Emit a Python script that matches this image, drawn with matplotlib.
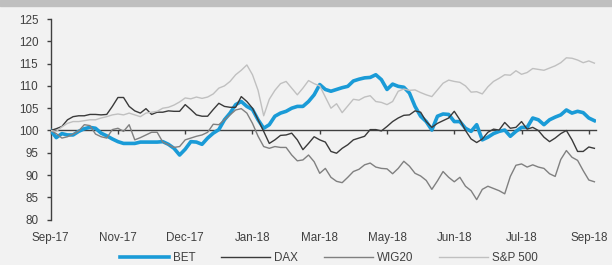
import matplotlib.pyplot as plt
from matplotlib.patches import Rectangle

plt.rcParams['font.family'] = ['Liberation Sans', 'DejaVu Sans']

# daily index levels (rebased to 100) at regular steps
bet = [100, 98.4, 99.3, 99, 99, 99.8, 100.4, 100.7, 100.5, 99.4, 98.8, 98.1,
       97.5, 97.1, 97.1, 97.1, 97.4, 97.4, 97.4, 97.4, 97.5, 96.9, 96.0, 94.5,
       95.8, 97.5, 97.4, 96.9, 98.3, 99.4, 100.2, 102.4, 103.9, 105.8, 106.5, 105.4,
       104.7, 102.4, 100.5, 101.3, 103.2, 103.9, 104.3, 105, 105.4, 105.4, 106.5, 108.0,
       110.3, 109.2, 108.8, 109.2, 109.6, 109.9, 111.1, 111.5, 111.8, 111.9, 112.5, 111.4,
       109.2, 110.4, 109.9, 109.7, 108.4, 105.4, 103.2, 102, 100.1, 103.2, 103.7, 103.6,
       102, 102, 100.5, 99.8, 101.3, 97.9, 98.5, 99.3, 99.8, 100.1, 98.7, 99.8,
       100.7, 100.7, 102.8, 102.4, 101.3, 102.4, 103, 103.5, 104.6, 103.9, 104.3, 104,
       102.8, 102.2]
dax = [100, 100.4, 100.9, 102.4, 103.1, 103.3, 103.3, 103.6, 103.6, 103.5, 103.6, 105.4,
       107.4, 107.4, 105.4, 104.4, 103.9, 104.9, 103.6, 104.1, 104.1, 104.4, 104.3, 104.3,
       105.8, 104.7, 103.5, 103.2, 103.2, 104.7, 106.1, 105.4, 105.2, 105.2, 107.6, 106.5,
       105, 102.4, 99.8, 97.1, 97.9, 98.9, 99.0, 99.4, 97.9, 95.7, 97.1, 98.6,
       97.9, 97.4, 95.3, 94.9, 96.0, 96.8, 97.9, 98.3, 98.7, 100.2, 100.2, 99.9,
       100.9, 102, 102.8, 103.4, 103.5, 104.4, 104.1, 102, 100.7, 101.6, 102.2, 102.8,
       104.3, 102.4, 100, 98.1, 97.3, 98.1, 99.6, 100.3, 100.1, 101.8, 100.5, 100.7,
       102, 100.3, 100.7, 100, 98.5, 97.5, 98.3, 99.3, 100, 97.9, 95.3, 95.3,
       96.3, 96.0]
wig20 = [100, 99.3, 98.3, 98.6, 99.2, 99.9, 101.3, 101.1, 99.2, 98.6, 98.3, 100.2,
         100.5, 99.8, 101.3, 97.9, 98.4, 99, 99.6, 99.6, 97.4, 96.8, 96.2, 96.4,
         97.9, 98.3, 98.7, 99, 99.6, 101.4, 101.3, 102.4, 103.5, 104.6, 104.9, 103.9,
         101.6, 98.7, 96.4, 96.0, 96.4, 96.2, 96.2, 94.5, 93.2, 93.4, 94.5, 93,
         90.4, 91.5, 89.5, 88.6, 88.3, 89.5, 90.8, 91.3, 92.3, 92.7, 91.8, 91.5,
         91.4, 90.3, 91.5, 93.1, 92, 90.4, 89.8, 88.8, 86.8, 88.7, 90.8, 89.5,
         88.5, 89.5, 87.5, 86.5, 84.5, 86.8, 87.5, 87, 86.5, 85.8, 89.7, 92.2,
         92.5, 91.8, 92.3, 91.8, 91.5, 90.3, 89.7, 93.5, 95.5, 94, 93.3, 91,
         88.9, 88.5]
sp500 = [100, 99.8, 100.8, 101.6, 102, 102, 102.2, 102.4, 102.4, 102.8, 103.1, 103.5,
         103.7, 103.5, 103.9, 103.5, 103.1, 103.9, 104.1, 104.3, 105, 105.2, 105.7, 106.4,
         107.3, 107.1, 107.5, 107.2, 107.5, 108.2, 109.5, 110, 111, 112.5, 113.5, 114.7,
         112.5, 109, 103.3, 107, 109, 110.5, 111, 109.5, 108, 109.5, 111.2, 110.5,
         110, 107.5, 105, 106, 104, 105.5, 107, 106.8, 107.5, 107.8, 106.5, 106.3,
         105.8, 106.5, 108.8, 109.3, 109, 109.1, 108.5, 108, 107.6, 109.1, 110.6, 111.3,
         111, 110.8, 110, 108.6, 108.7, 108.2, 109.8, 111, 111.7, 112.5, 112.4, 113.4,
         112.6, 113, 113.9, 113.7, 113.5, 114, 114.5, 115.2, 116.3, 116.2, 115.8, 115.2,
         115.6, 115.1]

tick_labels = ['Sep-17', 'Nov-17', 'Dec-17', 'Jan-18', 'Mar-18', 'May-18',
               'Jun-18', 'Jul-18', 'Sep-18']

txt = '#404040'
bg = '#f2f2f2'

fig = plt.figure(figsize=(6.12, 2.65), dpi=100, facecolor=bg)
fig.patches.append(Rectangle((0, 0.978), 1, 0.022, transform=fig.transFigure,
                             color='#bfbfbf', zorder=0))
ax = fig.add_axes([0.0828, 0.171, 0.8912, 0.7573])
ax.set_facecolor(bg)

x = range(len(bet))
ax.plot(x, bet, color='#1a9bd7', lw=2.6, label='BET', zorder=3)
ax.plot(x, dax, color='#3a3a3a', lw=1.0, label='DAX', zorder=4)
ax.plot(x, wig20, color='#808080', lw=1.0, label='WIG20', zorder=5)
ax.plot(x, sp500, color='#c0c0c0', lw=1.0, label='S&P 500', zorder=6)

ax.set_ylim(80, 125)
ax.set_xlim(0, 97.3)
ax.set_yticks(range(80, 126, 5))

for s in ['top', 'right']:
    ax.spines[s].set_visible(False)
ax.spines['left'].set_color(txt)
ax.spines['left'].set_linewidth(1.0)
ax.spines['bottom'].set_position(('data', 100))
ax.spines['bottom'].set_color(txt)
ax.spines['bottom'].set_linewidth(1.0)
ax.spines['bottom'].set_zorder(2.5)

ticks = list(range(0, 97, 12))
ax.set_xticks(ticks)
ax.tick_params(axis='x', length=3, width=1, color=txt, labelbottom=False)
ax.tick_params(axis='y', length=3, width=1, color=txt, labelcolor=txt,
               labelsize=8.4, pad=6)

sec = ax.secondary_xaxis(0)
sec.set_xticks(ticks, tick_labels)
sec.tick_params(length=0, pad=9, labelsize=8.4, labelcolor=txt)
sec.spines['bottom'].set_visible(False)

fig.legend(loc='center', bbox_to_anchor=(0.537, 0.027), ncol=4, frameon=False,
           fontsize=8.4, labelcolor=txt, handlelength=4.2, handletextpad=0.35,
           columnspacing=2.2)

fig.savefig('out.png', dpi=100, facecolor=bg)
